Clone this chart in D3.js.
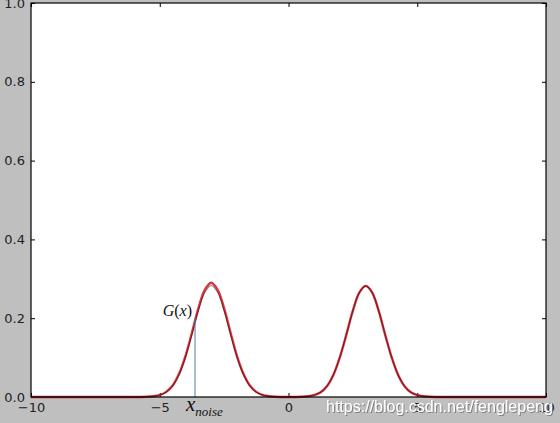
<!DOCTYPE html>
<html><head><meta charset="utf-8">
<script src="https://cdn.jsdelivr.net/npm/d3@7"></script>
<style>html,body{margin:0;padding:0;background:#bfbfbf;}svg{display:block;}</style>
</head><body>
<svg id="chart" width="560" height="423"></svg>
<script>
// x sample positions
const xs = [-10, -6, -5.75, -5.5, -5.25, -5, -4.75, -4.5, -4.25, -4, -3.75, -3.5, -3.25, -3,
  -2.75, -2.5, -2.25, -2, -1.75, -1.5, -1.25, -1, -0.75, -0.5, -0.25, 0,
  0.25, 0.5, 0.75, 1, 1.25, 1.5, 1.75, 2, 2.25, 2.5, 2.75, 3,
  3.25, 3.5, 3.75, 4, 4.25, 4.5, 4.75, 5, 5.25, 5.5, 5.75, 6, 10];
// red curve (mixture)
const redY = [0, 0.0001, 0.0001, 0.0005, 0.002, 0.005, 0.013, 0.029, 0.059, 0.104, 0.163, 0.225, 0.272, 0.290,
  0.272, 0.225, 0.163, 0.104, 0.059, 0.029, 0.013, 0.005, 0.002, 0.0005, 0.0001, 0,
  0.0001, 0.0005, 0.002, 0.005, 0.012, 0.028, 0.057, 0.102, 0.159, 0.219, 0.265, 0.282,
  0.265, 0.219, 0.159, 0.102, 0.057, 0.028, 0.012, 0.005, 0.002, 0.0005, 0.0001, 0.0001, 0];
// dark curve
const darkY = [0, 0.0001, 0.0001, 0.0005, 0.002, 0.005, 0.012, 0.028, 0.057, 0.101, 0.159, 0.219, 0.265, 0.283,
  0.265, 0.219, 0.159, 0.101, 0.057, 0.028, 0.012, 0.005, 0.002, 0.0005, 0.0001, 0,
  0.0001, 0.0005, 0.002, 0.005, 0.012, 0.028, 0.057, 0.102, 0.159, 0.219, 0.265, 0.282,
  0.265, 0.219, 0.159, 0.102, 0.057, 0.028, 0.012, 0.005, 0.002, 0.0005, 0.0001, 0.0001, 0];
const xTicks = [-10, -5, 0, 5, 10];
const yTicks = [0, 0.2, 0.4, 0.6, 0.8, 1.0];
const noiseX = [-3.63];
const noiseTop = [0.2];
const gLabel = "G(x)";
const watermark = "https://blog.csdn.net/fenglepeng";

const svg = d3.select("#chart");
const L = 31, R = 546, T = 3, B = 397;
const x = d3.scaleLinear().domain([-10, 10]).range([L, R]);
const y = d3.scaleLinear().domain([0, 1]).range([B, T]);

svg.append("rect").attr("x", L).attr("y", T).attr("width", R - L).attr("height", B - T).attr("fill", "#fff");

const fmtX = d3.format("d");
const fmtY = d3.format(".1f");
function styleAxis(g, labels) {
  g.select(".domain").remove();
  g.selectAll(".tick line").attr("stroke", "#000").attr("stroke-width", 1);
  if (labels) {
    g.selectAll(".tick text").attr("fill", "#222")
      .attr("font-family", "DejaVu Sans").attr("font-size", 13);
  } else {
    g.selectAll(".tick text").remove();
  }
}
svg.append("g").attr("transform", `translate(0,${B})`)
  .call(d3.axisBottom(x).tickValues(xTicks).tickFormat(fmtX).tickSizeInner(-4).tickSizeOuter(0).tickPadding(6))
  .call(g => styleAxis(g, true));
svg.append("g").attr("transform", `translate(0,${T})`)
  .call(d3.axisTop(x).tickValues(xTicks).tickFormat("").tickSizeInner(-4).tickSizeOuter(0))
  .call(g => styleAxis(g, false));
svg.append("g").attr("transform", `translate(${L},0)`)
  .call(d3.axisLeft(y).tickValues(yTicks).tickFormat(fmtY).tickSizeInner(-4).tickSizeOuter(0).tickPadding(6))
  .call(g => styleAxis(g, true));
svg.append("g").attr("transform", `translate(${R},0)`)
  .call(d3.axisRight(y).tickValues(yTicks).tickFormat("").tickSizeInner(-4).tickSizeOuter(0))
  .call(g => styleAxis(g, false));

const line = d3.line().x(d => x(d[0])).y(d => y(d[1])).curve(d3.curveCatmullRom);
svg.append("path").datum(xs.map((v, i) => [v, redY[i]]))
  .attr("d", line).attr("fill", "none").attr("stroke", "#d8202c").attr("stroke-width", 2.4).attr("stroke-opacity", 0.9);
svg.append("path").datum(xs.map((v, i) => [v, darkY[i]]))
  .attr("d", line).attr("fill", "none").attr("stroke", "#000").attr("stroke-width", 1.1).attr("stroke-opacity", 0.45);

svg.selectAll(".noise").data(noiseX).enter().append("line")
  .attr("x1", d => x(d)).attr("x2", d => x(d)).attr("y1", y(0)).attr("y2", (d, i) => y(noiseTop[i]))
  .attr("stroke", "#4a7fb0").attr("stroke-width", 1);

svg.append("rect").attr("x", L).attr("y", T).attr("width", R - L).attr("height", B - T)
  .attr("fill", "none").attr("stroke", "#000").attr("stroke-width", 1.2);

svg.append("text").attr("x", x(noiseX[0]) - 3).attr("y", y(0.2) - 2).attr("text-anchor", "end")
  .attr("font-family", "Liberation Serif").attr("font-size", 16).attr("fill", "#111")
  .html('<tspan font-style="italic">G</tspan>(<tspan font-style="italic">x</tspan>)');

const xn = svg.append("text").attr("x", x(noiseX[0]) - 9).attr("y", 411)
  .attr("font-family", "Liberation Serif").attr("font-style", "italic").attr("fill", "#111");
xn.append("tspan").attr("font-size", 21).text("x");
xn.append("tspan").attr("font-size", 13).attr("dy", 5).text("noise");

const defs = svg.append("defs");
const f = defs.append("filter").attr("id", "wmShadow").attr("x", "-5%").attr("y", "-30%").attr("width", "110%").attr("height", "160%");
f.append("feDropShadow").attr("dx", 1).attr("dy", 1).attr("stdDeviation", 0.6)
  .attr("flood-color", "#707070").attr("flood-opacity", 0.8);
svg.append("text").attr("x", 326).attr("y", 412)
  .attr("font-family", "Liberation Sans").attr("font-size", 16)
  .attr("fill", "#ffffff").attr("filter", "url(#wmShadow)")
  .text(watermark);
</script>
</body></html>
